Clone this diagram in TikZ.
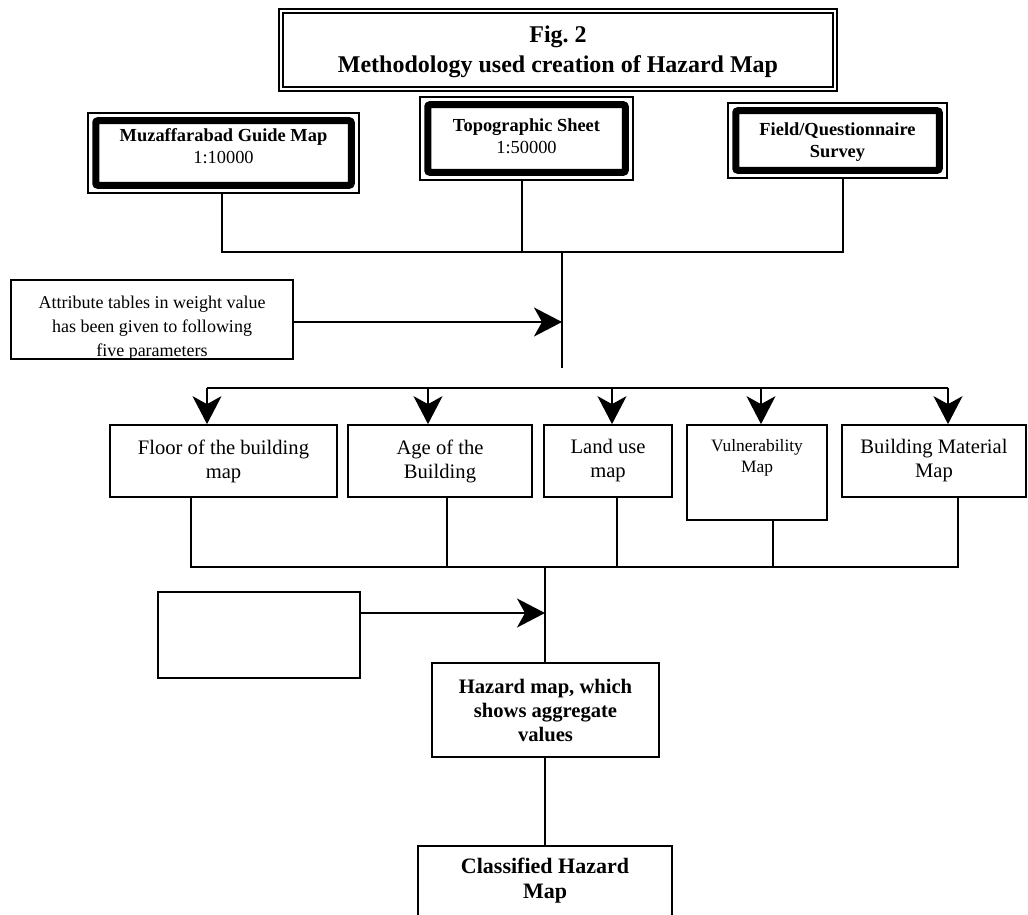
\documentclass[tikz,border=0pt]{standalone}
\usepackage{fontspec}
\setmainfont{Liberation Serif}
\usetikzlibrary{arrows.meta,calc}
\frenchspacing
\begin{document}
\begin{tikzpicture}[x=0.5pt,y=-0.5pt,
  conn/.style={line width=0.75pt},
  arr/.style={line width=0.75pt,-{Stealth[length=14pt,width=14.5pt,inset=4pt]}},
  plainbox/.style={draw,line width=0.85pt,inner sep=0pt},
  heavybox/.style={draw,line width=0.75pt,inner sep=0pt},
  txt/.style={align=center,inner sep=0pt},
  rowtxt/.style={txt,font=\fontsize{10.3pt}{12pt}\selectfont},
  toptxt/.style={txt,font=\fontsize{9.2pt}{10.8pt}\selectfont},
]
\clip (0,0) rectangle (1028,915);
\useasboundingbox (0,0) rectangle (1028,915);

% title
\node[draw,line width=1pt,minimum width=279pt,minimum height=41pt,inner sep=0pt] (title) at (558,50) {};
\draw[line width=0.6pt] ($(title.north west)+(5,5)$) rectangle ($(title.south east)+(-5,-5)$);
\node[txt,font=\fontsize{12pt}{15pt}\selectfont\bfseries] (titletext) at (558,52) {Fig. 2\\Methodology used creation of Hazard Map};

% source boxes
\node[heavybox,minimum width=135.5pt,minimum height=40pt] (muz) at (223.5,153) {};
\draw[line width=3.5pt,rounded corners=1pt] ($(muz.north west)+(8.5,8.5)$) rectangle ($(muz.south east)+(-8.5,-8.5)$);
\node[toptxt] (muzt) at (223.5,146) {\textbf{Muzaffarabad Guide Map}\\1:10000};

\node[heavybox,minimum width=106.5pt,minimum height=41.5pt] (topo) at (526.5,138.5) {};
\draw[line width=3.5pt,rounded corners=1pt] ($(topo.north west)+(8.5,8.5)$) rectangle ($(topo.south east)+(-8.5,-8.5)$);
\node[toptxt] (topot) at (526.5,136) {\textbf{Topographic Sheet}\\1:50000};

\node[heavybox,minimum width=109.5pt,minimum height=37.5pt] (field) at (837.5,140.5) {};
\draw[line width=3.5pt,rounded corners=1pt] ($(field.north west)+(8.5,8.5)$) rectangle ($(field.south east)+(-8.5,-8.5)$);
\node[toptxt,font=\fontsize{9.2pt}{10.8pt}\selectfont\bfseries] (fieldt) at (837.5,142) {Field/Questionnaire\\Survey};

% first junction
\coordinate (h1) at (222,252);
\coordinate (h2) at (522,252);
\coordinate (h3) at (843,252);
\coordinate (hm) at (562,252);
\coordinate (vend) at (562,368);
\draw[conn] (h1 |- muz.south) -- (h1) -- (h3) -- (h3 |- field.south);
\draw[conn] (h2 |- topo.south) -- (h2);
\draw[conn] (hm) -- (vend);

% attribute box
\node[plainbox,minimum width=141pt,minimum height=39.5pt] (attr) at (152,319.5) {};
\begin{scope}
\clip (attr.north west) rectangle (attr.south east);
\node[txt,font=\fontsize{9pt}{12pt}\selectfont] (attrt) at (152,328) {Attribute tables in weight value\\has been given to following\\five parameters};
\end{scope}
\coordinate (ay) at (293,322);
\draw[arr] (attr.east |- ay) -- (hm |- ay);

% row of five boxes
\node[plainbox,minimum width=113.5pt,minimum height=36pt] (floor) at (223.5,461) {};
\node[plainbox,minimum width=92pt,minimum height=36pt] (age) at (440,461) {};
\node[plainbox,minimum width=64pt,minimum height=36pt] (land) at (608,461) {};
\node[plainbox,minimum width=70pt,minimum height=47.5pt] (vuln) at (757,472.5) {};
\node[plainbox,minimum width=92pt,minimum height=36pt] (build) at (934,461) {};
\node[rowtxt] (floort) at (223.5,461) {Floor of the building\\map};
\node[rowtxt] (aget) at (440,461) {Age of the\\Building};
\node[rowtxt] (landt) at (608,461) {Land use\\map};
\node[txt,font=\fontsize{8.7pt}{10.5pt}\selectfont] (vulnt) at (757,458) {Vulnerability\\Map};
\node[rowtxt] (buildt) at (934,461) {Building Material\\Map};

% upper bus
\coordinate (b1) at (207,388);
\coordinate (b2) at (428,388);
\coordinate (b3) at (612,388);
\coordinate (b4) at (761,388);
\coordinate (b5) at (948,388);
\draw[conn] (b1) -- (b5);
\draw[arr] (b1) -- (b1 |- floor.north);
\draw[arr] (b2) -- (b2 |- age.north);
\draw[arr] (b3) -- (b3 |- land.north);
\draw[arr] (b4) -- (b4 |- vuln.north);
\draw[arr] (b5) -- (b5 |- build.north);

% lower bus
\coordinate (l1) at (191,567);
\coordinate (l2) at (447,567);
\coordinate (l3) at (617,567);
\coordinate (l4) at (773,567);
\coordinate (l5) at (958,567);
\coordinate (lm) at (545,567);
\draw[conn] (l1 |- floor.south) -- (l1) -- (l5) -- (l5 |- build.south);
\draw[conn] (l2 |- age.south) -- (l2);
\draw[conn] (l3 |- land.south) -- (l3);
\draw[conn] (l4 |- vuln.south) -- (l4);

% empty box, hazard, classified
\node[plainbox,minimum width=101pt,minimum height=43pt] (empty) at (259,635) {};
\node[plainbox,minimum width=113.5pt,minimum height=47pt] (hazard) at (545.5,710) {};
\node[txt,font=\fontsize{10.3pt}{12pt}\selectfont\bfseries] (hazardt) at (545.5,710) {Hazard map, which\\shows aggregate\\values};
\node[plainbox,minimum width=127pt,minimum height=50pt] (class) at (545,896) {};
\node[txt,font=\fontsize{11pt}{12.5pt}\selectfont\bfseries] (classt) at (545,881) {Classified Hazard\\Map};

\coordinate (ey) at (360,613);
\draw[conn] (lm) -- (lm |- hazard.north);
\draw[arr] (empty.east |- ey) -- (lm |- ey);
\draw[conn] (hazard.south -| lm) -- (class.north -| lm);
\end{tikzpicture}
\end{document}
